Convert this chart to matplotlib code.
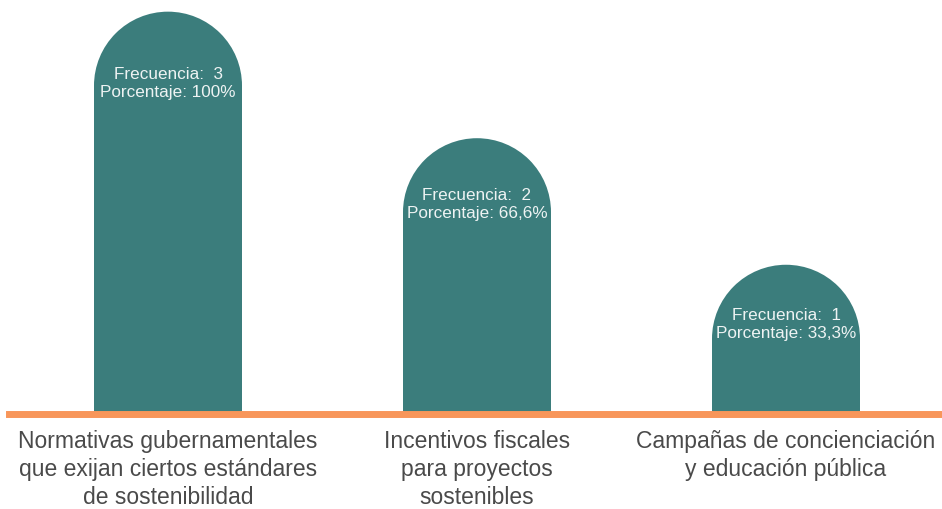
import matplotlib.pyplot as plt
from matplotlib.patches import Ellipse

categories = ['Normativas gubernamentales\nque exijan ciertos estándares\nde sostenibilidad',
              'Incentivos fiscales\npara proyectos\nsostenibles',
              'Campañas de concienciación\ny educación pública']
frecuencia = [3, 2, 1]
porcentaje = ['100%', '66,6%', '33,3%']

TEAL = '#3b7d7c'
ORANGE = '#f8965a'
GREY = '#4a4a4a'

plt.rcParams['font.family'] = ['Liberation Sans', 'DejaVu Sans']

fig = plt.figure(figsize=(9.42, 5.10), dpi=100)
ax = fig.add_axes([13.5 / 942, 0, 927 / 942, 1])
ax.set_xlim(-0.5, 2.5)
ax.set_ylim(-0.93, 3.10)
ax.axis('off')

floor = -0.18            # bars stand on the orange baseline
bar_w = 0.479
# semicircle top: radius in x units / y units (pixel aspect of the axes)
px_x = 927 / 3.0
px_y = 510 / (3.10 + 0.93)
r_x = bar_w / 2
r_y = r_x * px_x / px_y

x = list(range(len(frecuencia)))
heights = [v - r_y - floor for v in frecuencia]
ax.bar(x, heights, bottom=floor, width=bar_w, color=TEAL, linewidth=0, zorder=2)
for xi, v in zip(x, frecuencia):
    ax.add_patch(Ellipse((xi, v - r_y), 2 * r_x, 2 * r_y, color=TEAL, linewidth=0, zorder=2))

ax.axhline(floor, xmin=-0.005, xmax=1.01, color=ORANGE, linewidth=5, zorder=3,
           clip_on=False)

for xi, v, p in zip(x, frecuencia, porcentaje):
    off = -(53 + 6 * v) * 0.72
    ax.annotate(f'Frecuencia:  {v}\nPorcentaje: {p}', (xi, v), xytext=(0, off),
                textcoords='offset points', ha='center', va='center',
                color='#eef3f3', fontsize=12.3, linespacing=1.25, zorder=4)

for xi, lab in zip(x, categories):
    ax.annotate(lab, (xi, floor), xytext=(0, -11), textcoords='offset points',
                ha='center', va='top', color=GREY, fontsize=16.5, linespacing=1.26)

fig.savefig('out.png', dpi=100)
